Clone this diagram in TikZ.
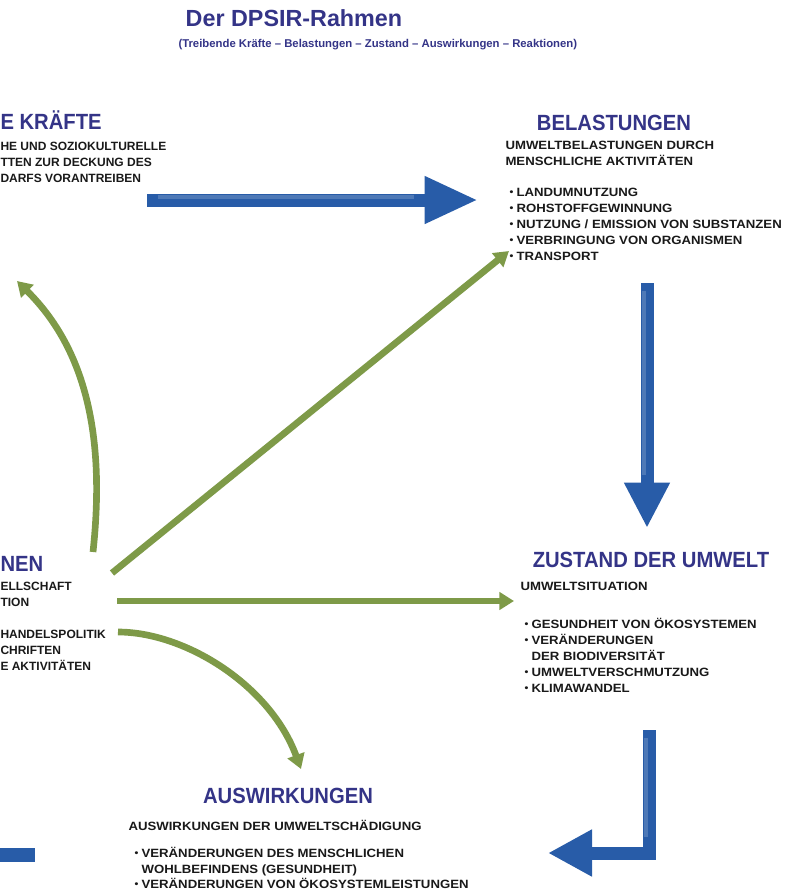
\documentclass[tikz,border=0pt]{standalone}
\usepackage{fontspec}
\setmainfont{Liberation Sans}
\newfontfamily\headfont[FakeStretch=0.92]{Liberation Sans}
\newfontfamily\bodyfont[FakeStretch=1.1]{Liberation Sans}
\newfontfamily\edgefont[FakeStretch=1.0]{Liberation Sans}
\usetikzlibrary{arrows.meta}

\definecolor{hdcol}{RGB}{52,52,135}
\definecolor{txtcol}{RGB}{25,25,25}
\definecolor{arrowblue}{RGB}{40,92,168}
\definecolor{arrowgreen}{RGB}{126,154,72}

\newcommand{\blt}{\raisebox{0.8pt}{\fontsize{7.5}{7.5}\selectfont\textbullet}\hspace{2.4pt}}

\tikzset{every picture/.style={line width=0.75pt}}
\tikzset{
  titletxt/.style={inner sep=0pt, text=hdcol, font=\bfseries\fontsize{17.5}{20}\selectfont},
  subtxt/.style={inner sep=0pt, text=hdcol, font=\bfseries\fontsize{8.5}{10}\selectfont},
  hdr/.style={inner sep=0pt, text=hdcol, font=\headfont\bfseries\fontsize{16.5}{19}\selectfont},
  bodytxt/.style={inner sep=0pt, align=left, text=txtcol, font=\bodyfont\bfseries\fontsize{9}{11.6}\selectfont},
  edgetxt/.style={bodytxt, font=\edgefont\bfseries\fontsize{9}{11.8}\selectfont},
  listtxt/.style={bodytxt, font=\bodyfont\bfseries\fontsize{9}{12}\selectfont},
  bluearrow/.style={draw=arrowblue, line width=9.75pt, -{Triangle[width=33pt,length=40pt]}},
  bluehi/.style={draw=white, opacity=0.18, line width=2.6pt},
  greenarrow/.style={draw=arrowgreen, line width=5pt, -{Triangle[width=13pt,length=11pt]}}
}

\begin{document}
\begin{tikzpicture}[x=0.75pt,y=0.75pt,yscale=-1,xscale=1]
\useasboundingbox (0,0) rectangle (792,894);

% Title
\node (title) [titletxt, anchor=base] at (294,26) {Der DPSIR-Rahmen};
\node (subtitle) [subtxt, anchor=base west] at (178,47) {(Treibende Kräfte – Belastungen – Zustand – Auswirkungen – Reaktionen)};

% Text Node: driving forces (cut at the left edge)
\node (dfHead) [hdr, anchor=base west] at (0,129) {E KRÄFTE};
\node (dfText) [edgetxt, anchor=north west] at (0,142) {HE UND SOZIOKULTURELLE\\TTEN ZUR DECKUNG DES\\DARFS VORANTREIBEN};

% Text Node: pressures
\node (prHead) [hdr, anchor=base] at (614,130) {BELASTUNGEN};
\node (prText) [bodytxt, anchor=north west] at (505,141) {UMWELTBELASTUNGEN DURCH\\MENSCHLICHE AKTIVITÄTEN};
\node (prList) [listtxt, anchor=north west] at (509,188) {\blt LANDUMNUTZUNG\\\blt ROHSTOFFGEWINNUNG\\\blt NUTZUNG / EMISSION VON SUBSTANZEN\\\blt VERBRINGUNG VON ORGANISMEN\\\blt TRANSPORT};

% Text Node: state
\node (stHead) [hdr, anchor=base] at (651,567) {ZUSTAND DER UMWELT};
\node (stText) [bodytxt, anchor=north west] at (520,582) {UMWELTSITUATION};
\node (stList) [listtxt, anchor=north west] at (524,618) {\blt GESUNDHEIT VON ÖKOSYSTEMEN\\\blt VERÄNDERUNGEN\\\phantom{\blt}DER BIODIVERSITÄT\\\blt UMWELTVERSCHMUTZUNG\\\blt KLIMAWANDEL};

% Text Node: impacts
\node (imHead) [hdr, anchor=base] at (288,803) {AUSWIRKUNGEN};
\node (imText) [bodytxt, anchor=north west] at (128,820) {AUSWIRKUNGEN DER UMWELTSCHÄDIGUNG};
\node (imList) [bodytxt, anchor=north west] at (134,847) {\blt VERÄNDERUNGEN DES MENSCHLICHEN\\\phantom{\blt}WOHLBEFINDENS (GESUNDHEIT)\\\blt VERÄNDERUNGEN VON ÖKOSYSTEMLEISTUNGEN};

% Text Node: responses (cut at the left edge)
\node (reHead) [hdr, anchor=base west] at (0,571) {NEN};
\node (reText) [edgetxt, anchor=north west] at (0,582) {ELLSCHAFT\\TION};
\node (reMeasures) [edgetxt, anchor=north west] at (0,630) {HANDELSPOLITIK\\CHRIFTEN\\E AKTIVITÄTEN};

% arrow ends
\coordinate (dfOut) at (147,200);
\coordinate (prIn) at (478,200);
\coordinate (prOut) at (647,283);
\coordinate (stIn) at (647,528);
\coordinate (stOut) at (649,730);
\coordinate (imIn) at (548,853);
\coordinate (imOut) at (35,855);
\coordinate (imOutEdge) at (0,855);
\coordinate (reUp) at (93,552);
\coordinate (dfIn) at (17,281);
\coordinate (reDiag) at (112,573);
\coordinate (prInG) at (509,251);
\coordinate (reMid) at (117,601);
\coordinate (stInG) at (514,601);
\coordinate (reLow) at (118,632);
\coordinate (imInG) at (301,769);

%Blue Arrows
\draw [bluearrow] (dfOut) -- (prIn);
\draw [bluearrow, -{Triangle[width=32pt,length=34pt]}] (prOut) -- (stIn);
\draw [bluearrow, line join=miter, -{Triangle[width=33pt,length=33pt]}] (stOut) |- (imIn);
\draw [draw=arrowblue, line width=11pt] (imOutEdge) -- (imOut);
% light edge on the shafts
\draw [bluehi, shorten <=8pt, shorten >=48pt, transform canvas={yshift=2.2pt}] (dfOut) -- (prIn);
\draw [bluehi, shorten <=6pt, shorten >=40pt, transform canvas={xshift=-2.2pt}] (prOut) -- (stIn);
\draw [bluehi, shorten <=6pt, shorten >=12pt, transform canvas={xshift=-2.2pt}] (stOut) -- (stOut |- imIn);

%Green Arrows
\draw [greenarrow] (reUp) .. controls (104,450) and (92,355) .. (dfIn);
\draw [greenarrow] (reDiag) -- (prInG);
\draw [greenarrow] (reMid) -- (stInG);
\draw [greenarrow] (reLow) .. controls (185,632) and (270,685) .. (imInG);

\end{tikzpicture}
\end{document}
